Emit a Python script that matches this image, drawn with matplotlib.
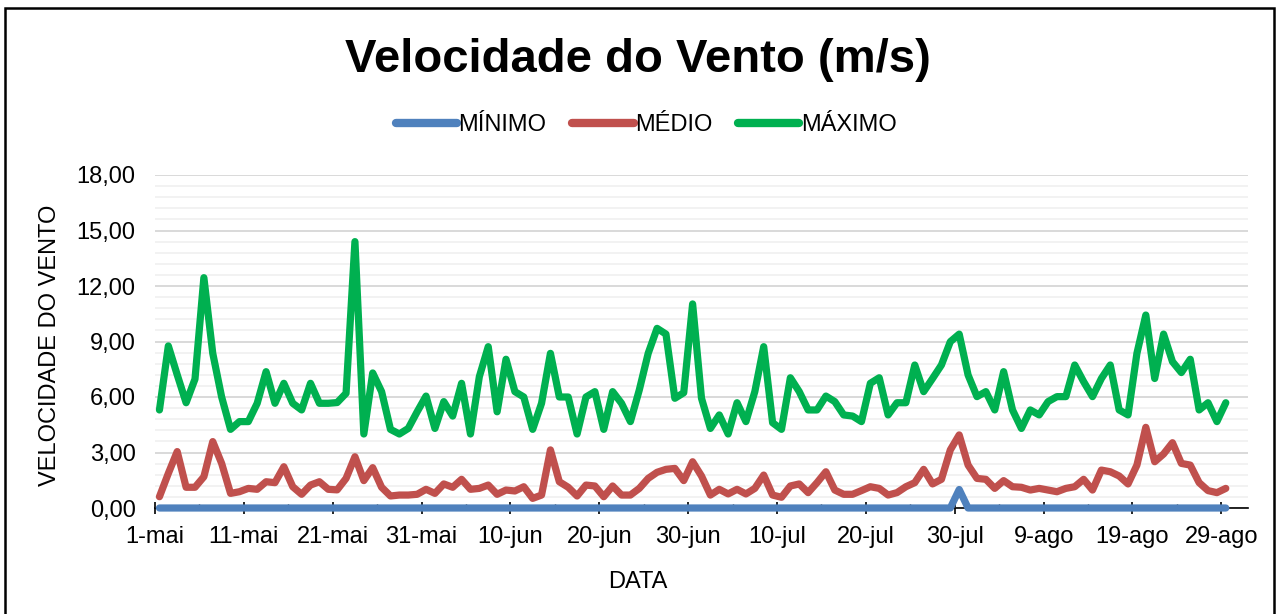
import numpy as np
import matplotlib
matplotlib.use("Agg")
import matplotlib.pyplot as plt
from matplotlib.patches import Rectangle
from matplotlib.ticker import MultipleLocator

plt.rcParams["font.family"] = ["Liberation Sans", "DejaVu Sans"]

# Daily wind speed, 1-mai .. 29-ago (121 days)
maximo = [
    5.30, 8.76, 7.20, 5.69, 6.97, 12.45, 8.36, 6.00, 4.25, 4.67,
    4.67, 5.66, 7.37, 5.66, 6.74, 5.66, 5.30, 6.74, 5.66, 5.66,
    5.70, 6.20, 14.40, 4.00, 7.30, 6.29, 4.25, 4.00, 4.30, 5.20,
    6.05, 4.30, 5.75, 4.97, 6.74, 4.00, 7.10, 8.72, 5.20, 8.04,
    6.29, 6.00, 4.25, 5.66, 8.36, 6.00, 6.00, 4.00, 6.00, 6.29,
    4.25, 6.29, 5.66, 4.67, 6.38, 8.36, 9.71, 9.40, 5.93, 6.23,
    11.03, 5.93, 4.30, 5.03, 4.00, 5.69, 4.67, 6.29, 8.72, 4.61,
    4.25, 7.04, 6.29, 5.30, 5.30, 6.05, 5.75, 5.03, 4.97, 4.67,
    6.74, 7.04, 5.03, 5.69, 5.69, 7.73, 6.29, 7.00, 7.73, 8.99,
    9.40, 7.19, 6.02, 6.29, 5.30, 7.37, 5.30, 4.30, 5.30, 5.03,
    5.75, 6.02, 6.02, 7.73, 6.83, 6.02, 7.00, 7.73, 5.30, 5.03,
    8.36, 10.43, 7.00, 9.40, 7.91, 7.32, 8.04, 5.30, 5.69, 4.67,
    5.69,
]
medio = [
    0.61, 1.87, 3.05, 1.12, 1.12, 1.69, 3.59, 2.41, 0.79, 0.88,
    1.06, 1.01, 1.42, 1.37, 2.23, 1.15, 0.74, 1.24, 1.42, 1.01,
    0.98, 1.60, 2.77, 1.48, 2.18, 1.12, 0.65, 0.70, 0.70, 0.74,
    1.01, 0.79, 1.30, 1.12, 1.55, 1.01, 1.06, 1.24, 0.74, 0.97,
    0.92, 1.15, 0.52, 0.70, 3.14, 1.42, 1.12, 0.65, 1.24, 1.19,
    0.61, 1.19, 0.70, 0.70, 1.06, 1.60, 1.93, 2.09, 2.14, 1.48,
    2.50, 1.73, 0.70, 1.01, 0.76, 1.01, 0.76, 1.06, 1.78, 0.70,
    0.58, 1.19, 1.30, 0.83, 1.37, 1.96, 0.97, 0.74, 0.74, 0.94,
    1.15, 1.06, 0.70, 0.83, 1.15, 1.37, 2.09, 1.30, 1.55, 3.14,
    3.95, 2.32, 1.60, 1.55, 1.06, 1.48, 1.15, 1.12, 0.97, 1.06,
    0.97, 0.88, 1.06, 1.15, 1.55, 0.97, 2.05, 1.96, 1.73, 1.30,
    2.32, 4.36, 2.50, 2.92, 3.53, 2.41, 2.32, 1.37, 0.94, 0.83,
    1.06,
]
minimo = [0.0] * 90 + [1.0] + [0.0] * 30

tick_labels = ["1-mai", "11-mai", "21-mai", "31-mai", "10-jun", "20-jun",
               "30-jun", "10-jul", "20-jul", "30-jul", "9-ago", "19-ago", "29-ago"]

BLUE = "#4F81BD"
RED = "#C0504D"
GREEN = "#00B050"

W, H = 1277, 614
FS = 17
fig = plt.figure(figsize=(W / 100, H / 100), dpi=100, facecolor="white")
ax = fig.add_axes([155 / W, 1 - 508 / H, (1248 - 155) / W, (508 - 175) / H])

# points sit in the middle of each day (date axis, between tick marks)
days = np.arange(len(maximo)) + 0.5

line_kw = dict(lw=5.2, solid_capstyle="round", solid_joinstyle="round", clip_on=False, zorder=3)
ax.plot(days, minimo, color=BLUE, label="MÍNIMO", **line_kw)
ax.plot(days, medio, color=RED, label="MÉDIO", **line_kw)
ax.plot(days, maximo, color=GREEN, label="MÁXIMO", **line_kw)

ax.set_ylim(0, 18)
ax.set_xlim(0, 123)
ax.yaxis.set_major_locator(MultipleLocator(3))
ax.yaxis.set_minor_locator(MultipleLocator(0.6))
ax.set_yticklabels([f"{v:.2f}".replace(".", ",") for v in ax.get_yticks()])
ax.set_xticks(np.arange(len(tick_labels)) * 10)
ax.set_xticklabels(tick_labels)
ax.xaxis.set_minor_locator(MultipleLocator(5))

ax.grid(True, which="major", axis="y", color="#d9d9d9", lw=1.4)
ax.grid(True, which="minor", axis="y", color="#f2f2f2", lw=1.4)
ax.set_axisbelow(True)

for s in ["left", "top", "right"]:
    ax.spines[s].set_visible(False)
ax.spines["bottom"].set_color("black")
ax.spines["bottom"].set_linewidth(1.2)

ax.tick_params(axis="y", which="both", length=0, labelsize=FS, pad=14, colors="#000000")
ax.tick_params(axis="x", which="major", direction="inout", length=8, width=1.2, labelsize=FS, pad=9)
ax.tick_params(axis="x", which="minor", direction="in", length=3, width=1.0)

fig.text(50 / W, 1 - 345 / H, "VELOCIDADE DO VENTO", rotation=90, ha="center", va="center", fontsize=FS)
fig.text(638 / W, 1 - 582 / H, "DATA", ha="center", va="center", fontsize=FS)
fig.text(638 / W, 1 - 60 / H, "Velocidade do Vento (m/s)", ha="center", va="center",
         fontsize=34, fontweight="bold")

leg = fig.legend(loc="center", bbox_to_anchor=(646 / W, 1 - 125 / H), ncol=3, frameon=False,
                 fontsize=FS, handlelength=2.6, handletextpad=0.05, columnspacing=1.1)
for h in leg.get_lines():
    h.set_linewidth(6)
    h.set_solid_capstyle("round")

fig.patches.append(Rectangle((5 / W, -0.05), (1274 - 5) / W, 1.05 - 8 / H,
                             transform=fig.transFigure, fill=False, edgecolor="black", lw=1.8))

fig.savefig("out.png", dpi=100, facecolor="white")
